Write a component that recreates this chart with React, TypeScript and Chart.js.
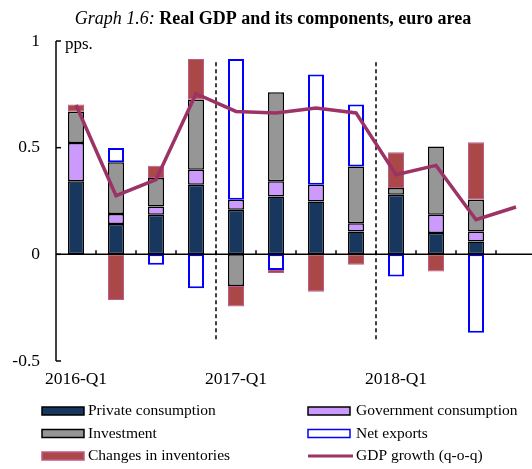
import React, { useEffect, useRef } from 'react';
import { Chart, registerables } from 'chart.js';

Chart.register(...registerables);

const categories = ['2016-Q1', '2016-Q2', '2016-Q3', '2016-Q4', '2017-Q1', '2017-Q2', '2017-Q3', '2017-Q4', '2018-Q1', '2018-Q2', '2018-Q3', '2018-Q4'];
const shownLabels = ['2016-Q1', '2017-Q1', '2018-Q1'];
const yTickValues = [-0.5, 0, 0.5, 1];
const dividerAfter = ['2016-Q4', '2017-Q4'];

const privateConsumption = [0.342, 0.142, 0.185, 0.326, 0.209, 0.271, 0.248, 0.107, 0.279, 0.100, 0.060, null];
const governmentConsumption = [0.180, 0.047, 0.039, 0.071, 0.047, 0.071, 0.078, 0.039, null, 0.085, 0.047, null];
const investment = [0.146, 0.243, 0.134, 0.328, -0.148, 0.418, null, 0.266, 0.032, 0.321, 0.149, null];
const netExports = [null, 0.066, -0.049, -0.159, 0.660, -0.073, 0.517, 0.290, -0.104, null, -0.367, null];
const inventories = [0.034, -0.214, 0.057, 0.191, -0.097, -0.015, -0.175, -0.049, 0.167, -0.081, 0.269, null];
const gdpGrowth = [0.70, 0.275, 0.35, 0.753, 0.67, 0.663, 0.686, 0.663, 0.373, 0.417, 0.162, 0.222];

const titleItalic = 'Graph 1.6:';
const titleBold = 'Real GDP and its components, euro area';
const unitLabel = 'pps.';

const SERIF = '"Liberation Serif", "Times New Roman", serif';

const decorPlugin = {
  id: 'decor',
  beforeDatasetsDraw(chart: any) {
    const ctx = chart.ctx;
    const xs = chart.scales.x;
    const ys = chart.scales.y;
    ctx.save();
    ctx.strokeStyle = '#000';
    ctx.lineWidth = 1.5;
    ctx.setLineDash([4, 3]);
    dividerAfter.forEach((lab) => {
      const i = categories.indexOf(lab);
      const px = (xs.getPixelForValue(i) + xs.getPixelForValue(i + 1)) / 2;
      ctx.beginPath();
      ctx.moveTo(px, ys.getPixelForValue(0.9));
      ctx.lineTo(px, ys.getPixelForValue(-0.4));
      ctx.stroke();
    });
    ctx.restore();
  },
  afterDatasetsDraw(chart: any) {
    const ctx = chart.ctx;
    const xs = chart.scales.x;
    const ys = chart.scales.y;
    const area = chart.chartArea;
    const x0 = area.left;
    ctx.save();
    ctx.strokeStyle = '#000';
    ctx.lineWidth = 1.5;
    ctx.beginPath();
    ctx.moveTo(x0, ys.getPixelForValue(1));
    ctx.lineTo(x0, ys.getPixelForValue(-0.5));
    ctx.stroke();
    yTickValues.forEach((v) => {
      const py = ys.getPixelForValue(v);
      ctx.beginPath();
      ctx.moveTo(x0, py);
      ctx.lineTo(x0 + 5, py);
      ctx.stroke();
    });
    const y0 = ys.getPixelForValue(0);
    ctx.beginPath();
    ctx.moveTo(x0, y0);
    ctx.lineTo(area.right, y0);
    ctx.stroke();
    for (let i = 0; i < categories.length; i++) {
      const px = (xs.getPixelForValue(i) + xs.getPixelForValue(i + 1)) / 2;
      ctx.beginPath();
      ctx.moveTo(px, y0);
      ctx.lineTo(px, y0 - 4);
      ctx.stroke();
    }
    ctx.restore();
  },
  afterDraw(chart: any) {
    const ctx = chart.ctx;
    const area = chart.chartArea;
    ctx.save();
    ctx.fillStyle = '#000';
    ctx.font = `17px ${SERIF}`;
    ctx.textBaseline = 'middle';
    ctx.textAlign = 'left';
    ctx.fillText(unitLabel, area.left + 9, 45);
    const tSize = 18;
    ctx.font = `italic ${tSize}px ${SERIF}`;
    const w1 = ctx.measureText(titleItalic + ' ').width;
    ctx.font = `bold ${tSize}px ${SERIF}`;
    const w2 = ctx.measureText(titleBold).width;
    const tx = 273 - (w1 + w2) / 2;
    ctx.font = `italic ${tSize}px ${SERIF}`;
    ctx.fillText(titleItalic, tx, 19);
    ctx.font = `bold ${tSize}px ${SERIF}`;
    ctx.fillText(titleBold, tx + w1, 19);
    const boxX = [42, 308];
    const textX = [88, 356];
    const rowY = [411, 433.5, 456];
    ctx.font = `15.5px ${SERIF}`;
    chart.data.datasets.forEach((ds: any, i: number) => {
      const col = i % 2;
      const row = Math.floor(i / 2);
      const bx = boxX[col];
      const cy = rowY[row];
      if (ds.type === 'line') {
        ctx.strokeStyle = ds.borderColor;
        ctx.lineWidth = 3;
        ctx.beginPath();
        ctx.moveTo(bx, cy);
        ctx.lineTo(bx + 45, cy);
        ctx.stroke();
      } else {
        ctx.fillStyle = ds.backgroundColor;
        ctx.fillRect(bx, cy - 4, 42, 8);
        ctx.strokeStyle = ds.borderColor;
        ctx.lineWidth = 1.5;
        ctx.strokeRect(bx, cy - 4, 42, 8);
      }
      ctx.fillStyle = '#000';
      ctx.fillText(ds.label, textX[col], cy);
    });
    ctx.restore();
  },
};

export default function App() {
  const canvasRef = useRef<HTMLCanvasElement | null>(null);

  useEffect(() => {
    document.body.style.margin = '0';
    const canvas = canvasRef.current;
    if (!canvas) return;
    const barCommon = {
      type: 'bar' as const,
      stack: 'components',
      borderWidth: 1.5,
      borderSkipped: false,
      barPercentage: 0.4,
      categoryPercentage: 1,
      order: 1,
    };
    const chart = new Chart(canvas, {
      type: 'bar',
      data: {
        labels: categories,
        datasets: [
          { ...barCommon, label: 'Private consumption', data: privateConsumption, backgroundColor: '#17375E', borderColor: '#000000' },
          { ...barCommon, label: 'Government consumption', data: governmentConsumption, backgroundColor: '#CC99FF', borderColor: '#000000' },
          { ...barCommon, label: 'Investment', data: investment, backgroundColor: '#969696', borderColor: '#000000' },
          { ...barCommon, label: 'Net exports', data: netExports, backgroundColor: '#FFFFFF', borderColor: '#0000FF', borderWidth: 2 },
          { ...barCommon, label: 'Changes in inventories', data: inventories, backgroundColor: '#AA4848', borderColor: '#BE5A8C', borderWidth: 1 },
          {
            type: 'line' as const,
            label: 'GDP growth (q-o-q)',
            data: gdpGrowth,
            stack: 'gdp',
            borderColor: '#9B3366',
            backgroundColor: '#9B3366',
            borderWidth: 3.5,
            pointRadius: 0,
            tension: 0,
            order: 0,
          } as any,
        ],
      },
      options: {
        animation: false,
        responsive: false,
        devicePixelRatio: 1,
        layout: { padding: { top: 41, right: 0, bottom: 0, left: 0 } },
        plugins: { legend: { display: false }, title: { display: false }, tooltip: { enabled: false } },
        scales: {
          x: {
            stacked: true,
            grid: { display: false, drawTicks: false },
            border: { display: false },
            ticks: {
              autoSkip: false,
              maxRotation: 0,
              padding: 8,
              color: '#000',
              font: { family: SERIF, size: 17.5 },
              callback: (v: any, i: number) => (shownLabels.includes(categories[i]) ? categories[i] : ''),
            },
            afterFit: (s: any) => { s.height = 108; },
          },
          y: {
            stacked: true,
            min: -0.5,
            max: 1,
            grid: { display: false, drawTicks: false },
            border: { display: false },
            ticks: {
              stepSize: 0.5,
              padding: 16,
              color: '#000',
              font: { family: SERIF, size: 17.5 },
              callback: (v: any) => String(Number(v)),
            },
            afterFit: (s: any) => { s.width = 56; },
          },
        },
      },
      plugins: [decorPlugin],
    } as any);
    return () => chart.destroy();
  }, []);

  return (
    <div style={{ width: 532, height: 469, overflow: 'hidden', position: 'relative' }}>
      <canvas ref={canvasRef} width={536} height={469} style={{ display: 'block' }} />
    </div>
  );
}
